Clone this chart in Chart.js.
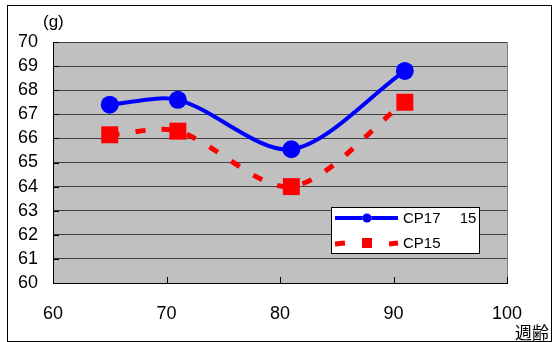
<!DOCTYPE html>
<html>
<head>
<meta charset="utf-8">
<script src="https://cdn.jsdelivr.net/npm/chart.js@4.4.0/dist/chart.umd.min.js"></script>
<style>
  html, body { margin: 0; padding: 0; background: #fff; }
  #wrap { width: 556px; height: 342px; }
</style>
</head>
<body>
<div id="wrap"><canvas id="chart" width="556" height="342"></canvas></div>
<script>
const weeks = [65, 71, 81, 91];
const cp1715 = [67.4, 67.6, 65.55, 68.8];
const cp15 = [66.15, 66.3, 64.0, 67.5];
const xTicks = [60, 70, 80, 90, 100];
const yTicks = [60, 61, 62, 63, 64, 65, 66, 67, 68, 69, 70];
const seriesNames = ['CP17\u3000 15', 'CP15'];

const font = 'Liberation Sans, Arial, sans-serif';

// gray plot area, outer frame, inner ticks
const decor = {
    id: 'decor',
    beforeDraw(chart) {
        const ctx = chart.ctx;
        const a = chart.chartArea;
        ctx.save();
        ctx.fillStyle = '#fff';
        ctx.fillRect(0, 0, chart.width, chart.height);
        ctx.fillStyle = '#c0c0c0';
        ctx.fillRect(a.left, a.top, a.right - a.left, a.bottom - a.top);
        ctx.restore();
    },
    afterDatasetsDraw(chart) {
        const ctx = chart.ctx;
        const a = chart.chartArea;
        const xs = chart.scales.x, ys = chart.scales.y;
        ctx.save();
        ctx.strokeStyle = '#808080';
        ctx.lineWidth = 1;
        ctx.beginPath();
        ctx.moveTo(a.right + 0.5, a.top);
        ctx.lineTo(a.right + 0.5, a.bottom);
        ctx.stroke();
        ctx.strokeStyle = '#000';
        ctx.beginPath();
        xTicks.forEach(v => {
            const px = Math.round(xs.getPixelForValue(v)) + 0.5;
            ctx.moveTo(px, a.bottom);
            ctx.lineTo(px, a.bottom - 6);
        });
        yTicks.forEach(v => {
            const py = Math.round(ys.getPixelForValue(v)) + 0.5;
            ctx.moveTo(a.left, py);
            ctx.lineTo(a.left + 6, py);
        });
        ctx.stroke();
        ctx.restore();
    },
    afterDraw(chart) {
        const ctx = chart.ctx;
        ctx.save();
        ctx.fillStyle = '#000';
        ctx.font = '17px ' + font;
        ctx.textBaseline = 'middle';
        ctx.textAlign = 'left';
        ctx.fillText('(g)', 43, 22);

        // legend box
        const bx = 331, by = 207, bw = 148, bh = 46;
        ctx.fillStyle = '#fff';
        ctx.fillRect(bx, by, bw, bh);
        ctx.strokeStyle = '#000';
        ctx.lineWidth = 1;
        ctx.strokeRect(bx + 0.5, by + 0.5, bw, bh);
        chart.data.datasets.forEach((ds, i) => {
            const cy = by + 11 + i * 25;
            ctx.save();
            ctx.strokeStyle = ds.borderColor;
            ctx.lineWidth = ds.borderWidth;
            if (ds.borderDash) {
                ctx.beginPath();
                ctx.moveTo(bx + 4, cy + 1); ctx.lineTo(bx + 14, cy);
                ctx.moveTo(bx + 58, cy + 1); ctx.lineTo(bx + 67, cy);
                ctx.stroke();
            } else {
                ctx.beginPath();
                ctx.moveTo(bx + 4, cy);
                ctx.lineTo(bx + 67, cy);
                ctx.stroke();
            }
            ctx.restore();
            Chart.helpers.drawPoint(ctx, {
                pointStyle: ds.pointStyle,
                radius: ds.pointStyle === 'rect' ? 7 : 4.5,
                borderWidth: 0
            }, bx + 36, cy);
            ctx.fillStyle = ds.pointBackgroundColor;
            ctx.fill();
            ctx.fillStyle = '#000';
            ctx.font = '15px ' + font;
            ctx.fillText(ds.label, bx + 72, cy + 1);
        });

        // frame + x title
        ctx.beginPath();
        ctx.rect(7, 5, 544, 336);
        ctx.clip();
        ctx.fillStyle = '#000';
        ctx.font = '17px "Noto Sans CJK JP", sans-serif';
        ctx.fillText('週齢', 515, 333);
        ctx.restore();
        ctx.save();
        ctx.strokeStyle = '#000';
        ctx.lineWidth = 1;
        ctx.strokeRect(7.5, 5.5, 544, 336);
        ctx.restore();
    }
};

const ctx = document.getElementById('chart').getContext('2d');
const chart = new Chart(ctx, {
    type: 'line',
    data: {
        datasets: [{
            label: seriesNames[0],
            data: weeks.map((w, i) => ({x: w, y: cp1715[i]})),
            borderColor: '#0000ff',
            backgroundColor: '#0000ff',
            pointBackgroundColor: '#0000ff',
            pointBorderWidth: 0,
            borderWidth: 4,
            pointStyle: 'circle',
            pointRadius: 9,
            tension: 0.3
        }, {
            label: seriesNames[1],
            data: weeks.map((w, i) => ({x: w, y: cp15[i]})),
            borderColor: '#ff0000',
            backgroundColor: '#ff0000',
            pointBackgroundColor: '#ff0000',
            pointBorderWidth: 0,
            borderWidth: 5,
            borderDash: [10, 16],
            pointStyle: 'rect',
            pointRadius: 12,
            tension: 0.3
        }]
    },
    options: {
        responsive: false,
        animation: false,
        devicePixelRatio: 1,
        layout: { padding: { top: 42, right: 49, left: 0, bottom: 0 } },
        plugins: {
            legend: { display: false },
            tooltip: { enabled: false }
        },
        scales: {
            x: {
                type: 'linear',
                min: 60,
                max: 100,
                afterBuildTicks: s => { s.ticks = xTicks.map(v => ({value: v})); },
                afterFit: s => { s.height = 59; },
                ticks: { font: { size: 18, family: font }, color: '#000', padding: 12, maxRotation: 0, autoSkip: false },
                grid: { display: false },
                border: { display: true, color: '#000', width: 1 }
            },
            y: {
                min: 60,
                max: 70,
                afterBuildTicks: s => { s.ticks = yTicks.map(v => ({value: v})); },
                afterFit: s => { s.width = 53; },
                ticks: { font: { size: 18, family: font }, color: '#000', padding: 15, autoSkip: false },
                grid: { color: '#404040', lineWidth: 1, drawTicks: false },
                border: { display: true, color: '#000', width: 1 }
            }
        }
    },
    plugins: [decor]
});
</script>
</body>
</html>
